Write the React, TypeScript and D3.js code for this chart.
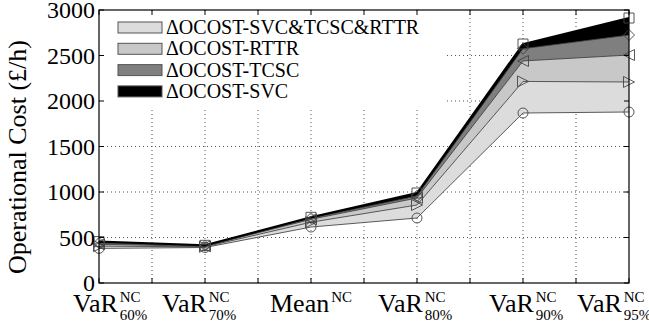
import React, { useEffect, useRef } from 'react';
import * as d3 from 'd3';

// category positions on the x grid (grid step = 1)
const catPos = [0, 2, 4, 6, 8, 10];
const catMain = ['VaR', 'VaR', 'Mean', 'VaR', 'VaR', 'VaR'];
const catSub = ['60%', '70%', '', '80%', '90%', '95%'];

// boundary lines, bottom to top (£/h)
const lineCircle = [380, 390, 615, 714, 1868, 1879];
const lineTriRight = [405, 398, 668, 857, 2215, 2209];
const lineTriLeft = [425, 403, 700, 934, 2440, 2505];
const lineDiamond = [440, 408, 712, 956, 2575, 2725];
const lineSquare = [455, 414, 722, 989, 2626, 2912];

const legendLabels = ['ΔOCOST-SVC&TCSC&RTTR', 'ΔOCOST-RTTR', 'ΔOCOST-TCSC', 'ΔOCOST-SVC'];
const legendColors = ['#dcdcdc', '#c8c8c8', '#7f7f7f', '#000000'];

const yTicks = [0, 500, 1000, 1500, 2000, 2500, 3000];

const W = 649;
const H = 325;
const m = { left: 99, right: 629, top: 10, bottom: 283 };
const FONT = 'Liberation Serif';

const App = () => {
  const svgRef = useRef<SVGSVGElement>(null);
  const x = d3.scaleLinear().domain([0, 10]).range([m.left, m.right]);
  const y = d3.scaleLinear().domain([0, 3000]).range([m.bottom, m.top]);

  const layers = [lineCircle, lineTriRight, lineTriLeft, lineDiamond, lineSquare];
  const bands = [0, 1, 2, 3].map((i) => {
    const lo = layers[i];
    const hi = layers[i + 1];
    const area = d3
      .area<number>()
      .x((_, j) => x(catPos[j]))
      .y0((_, j) => y(lo[j]))
      .y1((_, j) => y(hi[j]));
    return area(hi) as string;
  });
  const line = (vals: number[]) =>
    d3
      .line<number>()
      .x((_, j) => x(catPos[j]))
      .y((d) => y(d))(vals) as string;

  const mk = 5.5;
  const markerPath = (k: number, cx: number, cy: number) => {
    if (k === 1) return `M${cx - mk},${cy - mk}L${cx + mk},${cy}L${cx - mk},${cy + mk}Z`;
    if (k === 2) return `M${cx + mk},${cy - mk}L${cx - mk},${cy}L${cx + mk},${cy + mk}Z`;
    if (k === 3) return `M${cx},${cy - mk}L${cx + mk},${cy}L${cx},${cy + mk}L${cx - mk},${cy}Z`;
    return `M${cx - 5},${cy - 5}h10v10h-10Z`;
  };

  const gridX = d3.range(1, 10);
  const labelDx = [-26, -43, -41, -39, -34, -52];

  useEffect(() => {
    const svg = d3.select(svgRef.current);
    // force the serif face on every text
    svg.selectAll('text').attr('font-family', FONT).style('font-family', `'${FONT}'`);
    // place super/subscripts right after the main word
    svg.selectAll<SVGGElement, unknown>('g.cat-label').each(function () {
      const g = d3.select(this);
      const main = g.select<SVGTextElement>('text.main').node();
      if (!main) return;
      const x0 = +main.getAttribute('x')! + main.getComputedTextLength() + 2;
      g.selectAll('text.small').attr('x', x0);
    });
  }, []);

  return (
    <div style={{ position: 'absolute', left: 0, top: 0, width: W, height: H }}>
      <svg ref={svgRef} width={W} height={H} style={{ display: 'block' }}>
        <rect width={W} height={H} fill="#fff" />
        {/* grid */}
        {yTicks.slice(1, -1).map((t) => (
          <line key={'gy' + t} x1={m.left} x2={m.right} y1={y(t)} y2={y(t)} stroke="#555" strokeDasharray="1,3" />
        ))}
        {gridX.map((t) => (
          <line key={'gx' + t} x1={x(t)} x2={x(t)} y1={m.top} y2={m.bottom} stroke="#555" strokeDasharray="1,3" />
        ))}
        {/* bands */}
        {bands.map((p, i) => (
          <path key={'b' + i} d={p} fill={legendColors[i]} />
        ))}
        {layers.map((vals, k) => (
          <path
            key={'l' + k}
            d={line(vals)}
            fill="none"
            stroke={k === 4 ? '#000' : '#333'}
            strokeWidth={k === 4 ? 2 : 0.8}
          />
        ))}
        {layers.map((vals, k) =>
          vals.map((v, j) =>
            k === 0 ? (
              <circle key={`m${k}-${j}`} cx={x(catPos[j])} cy={y(v)} r={5} fill="none" stroke="#444" strokeWidth={0.9} />
            ) : (
              <path key={`m${k}-${j}`} d={markerPath(k, x(catPos[j]), y(v))} fill="none" stroke="#444" strokeWidth={0.9} />
            )
          )
        )}
        {/* legend */}
        <rect x={103} y={12} width={344} height={96} fill="#fff" />
        {legendLabels.map((l, i) => (
          <g key={'lg' + i} transform={`translate(118,${22 + i * 21.3})`}>
            <rect width={44} height={11} fill={legendColors[i]} stroke="#555" strokeWidth={1} />
            <text x={48} y={12} fontFamily={FONT} fontSize={20}>
              {l}
            </text>
          </g>
        ))}
        {/* frame & ticks */}
        <rect x={m.left} y={m.top} width={m.right - m.left} height={m.bottom - m.top} fill="none" stroke="#000" strokeWidth={1.2} />
        {yTicks.map((t) => (
          <g key={'ty' + t}>
            <line x1={m.left} x2={m.left + 5} y1={y(t)} y2={y(t)} stroke="#000" />
            <line x1={m.right} x2={m.right - 5} y1={y(t)} y2={y(t)} stroke="#000" />
            <text x={95} y={y(t)} dy="0.35em" textAnchor="end" fontFamily={FONT} fontSize={24}>
              {t}
            </text>
          </g>
        ))}
        {d3.range(0, 11).map((t) => (
          <g key={'tx' + t}>
            <line x1={x(t)} x2={x(t)} y1={m.bottom} y2={m.bottom - 5} stroke="#000" />
            <line x1={x(t)} x2={x(t)} y1={m.top} y2={m.top + 5} stroke="#000" />
          </g>
        ))}
        {catPos.map((p, i) => {
          const sx = x(p) + labelDx[i];
          return (
            <g key={'cl' + i} className="cat-label">
              <text className="main" x={sx} y={312} fontSize={26} fontFamily={FONT}>
                {catMain[i]}
              </text>
              <text className="small" x={sx + 49} y={302} fontSize={15} fontFamily={FONT}>
                NC
              </text>
              {catSub[i] && (
                <text className="small" x={sx + 49} y={320} fontSize={15} fontFamily={FONT}>
                  {catSub[i]}
                </text>
              )}
            </g>
          );
        })}
        <text transform="translate(26,157) rotate(-90)" textAnchor="middle" fontFamily={FONT} fontSize={26}>
          Operational Cost (£/h)
        </text>
      </svg>
    </div>
  );
};

export default App;
